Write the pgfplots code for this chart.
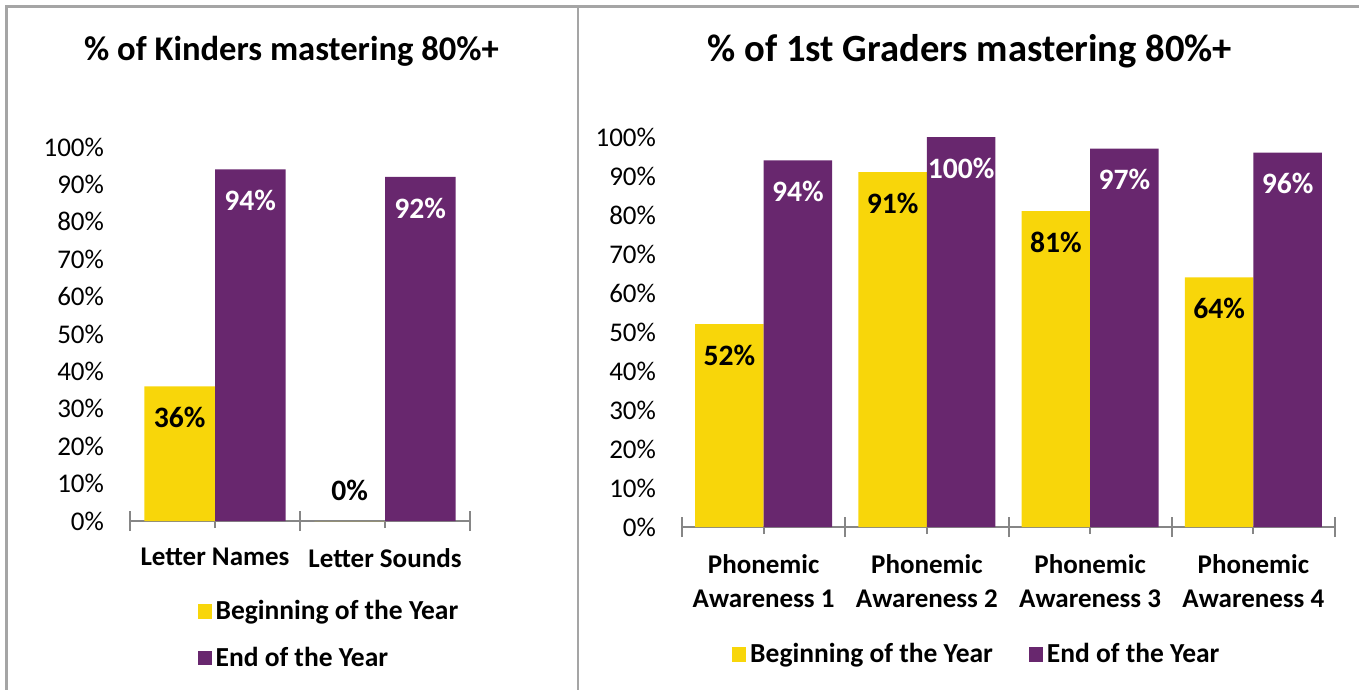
\documentclass[border=0pt]{standalone}
\usepackage{fontspec}
\setmainfont{Carlito}
\usepackage{pgfplots}
\pgfplotsset{compat=1.18}

\definecolor{boy}{RGB}{248,214,10}
\definecolor{eoy}{RGB}{104,39,110}
\definecolor{axisgray}{RGB}{134,134,134}
\definecolor{framegray}{RGB}{165,165,165}

\pgfplotsset{
  /pgf/number format/assume math mode=true,
  mastery/.style={
    ybar=0pt, scale only axis, clip=false,
    ymin=0, ymax=100, enlargelimits=false,
    ytick={0,10,...,100},
    yticklabel={\pgfmathprintnumber{\tick}\%},
    axis x line*=bottom, axis y line*=left,
    y axis line style={draw=none}, ytick style={draw=none},
    x axis line style={axisgray, line width=1pt},
    xtick style={axisgray, line width=1pt},
    tick align=outside, major tick length=3.5pt,
    extra x tick labels={},
    extra x tick style={tick align=center, major tick length=10pt},
    tick label style={font=\fontsize{13.5}{16}\selectfont, text=black},
    yticklabel style={xshift=-6pt},
    xticklabel style={font=\bfseries\fontsize{13.5}{17}\selectfont, align=center, yshift=-6.5pt},
    title style={font=\bfseries\fontsize{17.3}{20}\selectfont, yshift=0pt},
    legend cell align=left,
    legend style={draw=none, fill=none, font=\bfseries\fontsize{13.75}{16}\selectfont},
    nodes near coords={\pgfmathprintnumber{\pgfplotspointmeta}\%},
    every node near coord/.append style={anchor=center, yshift=-15.5pt,
      font=\bfseries\fontsize{14.8}{17}\selectfont},
  },
  sq/.style={draw=none, fill=#1,
    legend image code/.code={\fill[#1] (0pt,-3.7pt) rectangle (7pt,3.7pt);}},
}

\begin{document}
\begin{tikzpicture}
\path[use as bounding box] (0,0) rectangle (679.5pt,-345pt);
\draw[framegray, line width=1.5pt] (3.25pt,-345pt) -- (3.25pt,-3.5pt) -- (679.5pt,-3.5pt);
\draw[framegray, line width=1pt] (289pt,-3.5pt) -- (289pt,-345pt);

% kindergarten
\begin{axis}[mastery,
  at={(65pt,-260.5pt)}, anchor=south west,
  width=170pt, height=187pt, bar width=35.25pt,
  xmin=-0.5, xmax=1.5,
  xtick={0,1}, xticklabels={Letter Names, Letter Sounds},
  extra x ticks={-0.5,0.5,1.5},
  title={\% of Kinders mastering 80\%+},
  title style={at={(0.475,1.224)}, anchor=center},
  legend style={at={(0.18,-0.19)}, anchor=north west, row sep=8pt},
]
\addplot[sq=boy, nodes near coords style={text=black},
  coordinate style/.condition={y==0}{yshift=31pt}]
  coordinates {(0,36) (1,0)};
\addplot[sq=eoy, nodes near coords style={text=white}]
  coordinates {(0,94) (1,92)};
\legend{Beginning of the Year, End of the Year}
\end{axis}

% first grade
\begin{axis}[mastery,
  at={(341pt,-263.5pt)}, anchor=south west,
  width=326.5pt, height=195pt, bar width=34.25pt,
  xmin=-0.5, xmax=3.5,
  xtick={0,1,2,3},
  xticklabels={Phonemic\\Awareness 1, Phonemic\\Awareness 2, Phonemic\\Awareness 3, Phonemic\\Awareness 4},
  extra x ticks={-0.5,0.5,1.5,2.5,3.5},
  title={\% of 1st Graders mastering 80\%+},
  title style={at={(0.441,1.19)}, anchor=center,
    font=\bfseries\fontsize{19.3}{22}\selectfont},
  legend columns=2,
  legend style={at={(0.453,-0.326)}, anchor=center,
    /tikz/every even column/.append style={column sep=16pt}},
]
\addplot[sq=boy, nodes near coords style={text=black}]
  coordinates {(0,52) (1,91) (2,81) (3,64)};
\addplot[sq=eoy, nodes near coords style={text=white}]
  coordinates {(0,94) (1,100) (2,97) (3,96)};
\legend{Beginning of the Year, End of the Year}
\end{axis}
\end{tikzpicture}
\end{document}
